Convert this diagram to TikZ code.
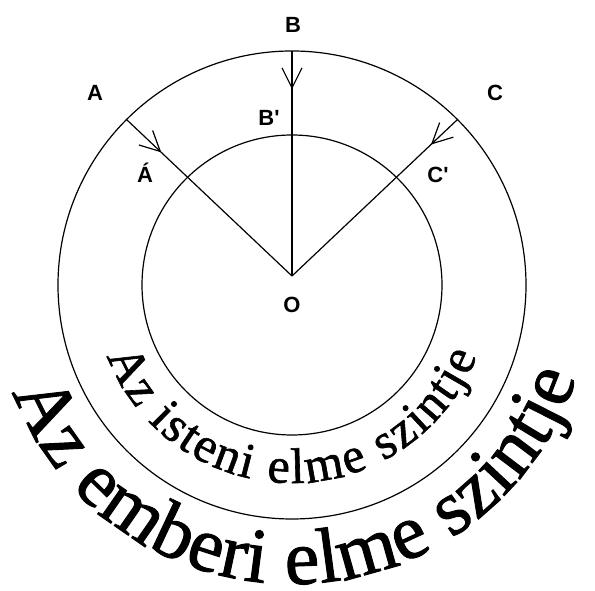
\documentclass[tikz,border=0pt]{standalone}
\usepackage{fontspec}
\setmainfont{Liberation Serif}
\newfontfamily\labelfont{Liberation Sans}
\newfontfamily\captionfont[FakeBold=1.2]{Liberation Serif}
\usetikzlibrary{decorations.text, decorations.markings, arrows.meta}

\begin{document}
\begin{tikzpicture}[x=1pt, y=1pt,
  ring/.style={line width=1.2pt},
  ray/.style={line width=1.2pt},
  inflow/.style={postaction={decorate}, decoration={markings,
    mark=at position #1 with {\arrow{Straight Barb[length=20pt, width=20pt]}}}},
  pointlabel/.style={font=\labelfont\bfseries\fontsize{22}{26}\selectfont, inner sep=0pt}]
  % ----- Frame of the picture -----
  \useasboundingbox (0,0) rectangle (595,591);

  % ----- Centre of the rings and the meeting point of the rays -----
  \coordinate (Z) at (292,306);
  \coordinate (O) at (292,315);
  \draw[ring] (Z) circle (234);
  \draw[ring] (Z) circle (150);

  % ----- Rays from the outer ring to O -----
  \coordinate (A) at ([shift={(135:234)}]Z);
  \coordinate (B) at ([shift={(90:234)}]Z);
  \coordinate (C) at ([shift={(45:234)}]Z);
  \draw[ray, inflow=0.21] (A) -- (O);
  \draw[ray, inflow=0.17] (B) -- (O);
  \draw[ray, inflow=0.16] (C) -- (O);

  % ----- Point labels -----
  \node[pointlabel] (labA) at (95,498) {A};
  \node[pointlabel] (labB) at (293,566) {B};
  \node[pointlabel] (labC) at (495,498) {C};
  \node[pointlabel] (labAp) at (145,418) {Á};
  \node[pointlabel] (labBp) at (269,473) {B'};
  \node[pointlabel] (labCp) at (438,416) {C'};
  \node[pointlabel] (labO) at (292,286) {O};

  % ----- Curved captions of the two levels -----
  \path[decorate, decoration={text along path, text align={fit to path},
      text={|\captionfont\fontsize{50}{50}\selectfont|Az isteni elme szintje}}]
    ([shift={(201:198)}]Z) arc[start angle=201, end angle=339, radius=198];
  \path[decorate, decoration={text along path, text align={fit to path},
      text={|\captionfont\fontsize{78}{78}\selectfont|Az emberi elme szintje}}]
    ([shift={(201:299)}]Z) arc[start angle=201, end angle=342, radius=299];
\end{tikzpicture}
\end{document}
